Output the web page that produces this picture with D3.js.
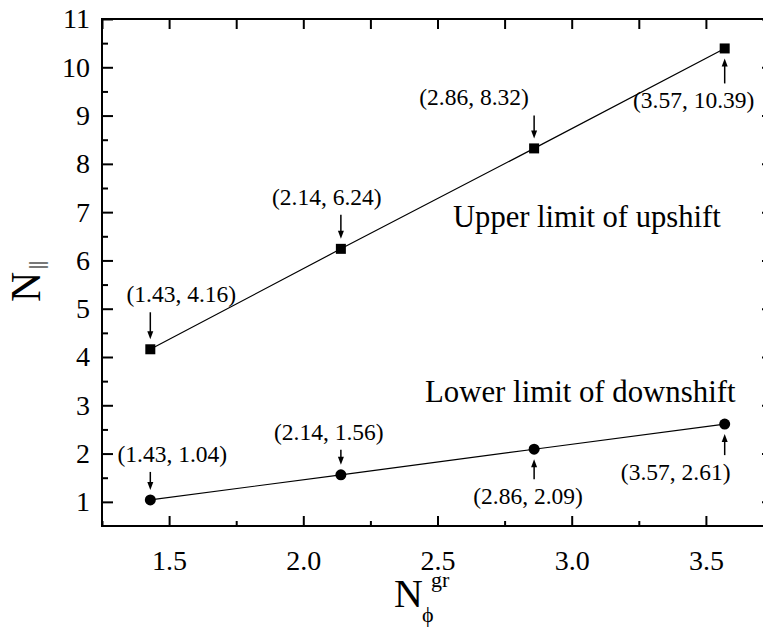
<!DOCTYPE html>
<html>
<head>
<meta charset="utf-8">
<script src="https://cdn.jsdelivr.net/npm/d3@7"></script>
<style>
  html, body { margin: 0; padding: 0; background: #fff; }
  svg { display: block; }
  text { font-family: "Liberation Serif", "Times New Roman", serif; fill: #000; }
</style>
</head>
<body>
<svg id="chart" width="763" height="629"></svg>
<script>
// N_phi^gr values and the two N_parallel limits
const nPhi = [1.43, 2.14, 2.86, 3.57];
const upperLimit = [4.16, 6.24, 8.32, 10.39];
const lowerLimit = [1.04, 1.56, 2.09, 2.61];
const xTickValues = [1.5, 2.0, 2.5, 3.0, 3.5];
const yTickValues = [1, 2, 3, 4, 5, 6, 7, 8, 9, 10, 11];
const seriesNames = ["Upper limit of upshift", "Lower limit of downshift"];

// where each "(x, y)" callout sits relative to its marker (pixels)
const upperCallouts = [
  { dx: 31, dy: -47, side: "above" },
  { dx: -14, dy: -44, side: "above" },
  { dx: -60, dy: -43, side: "above" },
  { dx: -31, dy: 60, side: "below" }
];
const lowerCallouts = [
  { dx: 22, dy: -38, side: "above" },
  { dx: -12, dy: -35, side: "above" },
  { dx: -6, dy: 55, side: "below" },
  { dx: -49, dy: 56, side: "below" }
];

const svg = d3.select("#chart");
const plotL = 102, plotR = 773, plotT = 19, plotB = 526;

const x = d3.scaleLinear().domain([1.25, 3.75]).range([plotL, plotR]);
const y = d3.scaleLinear().domain([0.5, 11]).range([plotB, plotT]);

const xMinor = d3.range(1.25, 3.76, 0.25).filter(v => !xTickValues.some(t => Math.abs(t - v) < 1e-6));
const yMinor = d3.range(1.5, 11, 1);

function styleAxis(g) {
  g.select(".domain").remove();
  g.selectAll(".tick line").attr("stroke", "#000").attr("stroke-width", 2);
}

// bottom axis: labelled majors, short minors, ticks pointing inward
svg.append("g").attr("transform", `translate(0,${plotB})`)
  .call(d3.axisBottom(x).tickValues(xTickValues).tickSize(-10).tickPadding(24)
    .tickFormat(d3.format(".1f")))
  .call(styleAxis)
  .call(g => g.selectAll("text").attr("font-size", 28).attr("font-family", "Liberation Serif"));
svg.append("g").attr("transform", `translate(0,${plotB})`)
  .call(d3.axisBottom(x).tickValues(xMinor).tickSize(-5).tickFormat(""))
  .call(styleAxis);

// top axis
svg.append("g").attr("transform", `translate(0,${plotT})`)
  .call(d3.axisTop(x).tickValues(xTickValues.concat(xMinor)).tickSize(-10).tickFormat(""))
  .call(styleAxis);

// left axis
svg.append("g").attr("transform", `translate(${plotL},0)`)
  .call(d3.axisLeft(y).tickValues(yTickValues).tickSize(-11).tickPadding(12))
  .call(styleAxis)
  .call(g => g.selectAll("text").attr("font-size", 28).attr("font-family", "Liberation Serif"));
svg.append("g").attr("transform", `translate(${plotL},0)`)
  .call(d3.axisLeft(y).tickValues(yMinor).tickSize(-6).tickFormat(""))
  .call(styleAxis);

// right axis
svg.append("g").attr("transform", `translate(${plotR},0)`)
  .call(d3.axisRight(y).tickValues(yTickValues).tickSize(-11).tickFormat(""))
  .call(styleAxis);
svg.append("g").attr("transform", `translate(${plotR},0)`)
  .call(d3.axisRight(y).tickValues(yMinor).tickSize(-6).tickFormat(""))
  .call(styleAxis);

// frame
svg.append("rect")
  .attr("x", plotL).attr("y", plotT)
  .attr("width", plotR - plotL).attr("height", plotB - plotT)
  .attr("fill", "none").attr("stroke", "#000").attr("stroke-width", 2);

// axis titles
const xTitle = svg.append("g").attr("transform", "translate(394,607)");
xTitle.append("text").attr("font-size", 40).text("N");
xTitle.append("text").attr("x", 28).attr("y", 15).attr("font-size", 22).text("\u03d5");
xTitle.append("text").attr("x", 37).attr("y", -20).attr("font-size", 22).text("gr");

const yTitle = svg.append("g").attr("transform", "translate(40,302) rotate(-90)");
yTitle.append("text").attr("font-size", 42).text("N");
yTitle.append("text").attr("x", 33).attr("y", 3).attr("font-size", 20).text("||");

// connecting lines
const line = d3.line().x((d, i) => x(nPhi[i])).y(d => y(d));
[upperLimit, lowerLimit].forEach(vals => {
  svg.append("path").datum(vals)
    .attr("d", line)
    .attr("fill", "none").attr("stroke", "#000").attr("stroke-width", 1.2);
});

// markers
svg.selectAll("rect.sq").data(upperLimit).enter().append("rect")
  .attr("class", "sq")
  .attr("x", (d, i) => x(nPhi[i]) - 5).attr("y", d => y(d) - 5)
  .attr("width", 10).attr("height", 10).attr("fill", "#000");
svg.selectAll("circle.dot").data(lowerLimit).enter().append("circle")
  .attr("class", "dot")
  .attr("cx", (d, i) => x(nPhi[i])).attr("cy", d => y(d))
  .attr("r", 5.5).attr("fill", "#000");

// callouts: value text plus a small vertical arrow pointing at the marker
function arrow(px, y0, y1) {
  // y0 = tail, y1 = tip
  const dir = y1 > y0 ? 1 : -1;
  svg.append("line").attr("x1", px).attr("x2", px)
    .attr("y1", y0).attr("y2", y1 - dir * 6)
    .attr("stroke", "#000").attr("stroke-width", 1.5);
  svg.append("path")
    .attr("d", `M${px},${y1} L${px - 3},${y1 - dir * 8} L${px + 3},${y1 - dir * 8} Z`)
    .attr("fill", "#000");
}

function callouts(vals, layout, markerR) {
  vals.forEach((v, i) => {
    const px = x(nPhi[i]), py = y(v);
    const c = layout[i];
    svg.append("text")
      .attr("x", px + c.dx).attr("y", py + c.dy)
      .attr("text-anchor", "middle").attr("font-size", 23.5)
      .text(`(${d3.format(".2f")(nPhi[i])}, ${d3.format(".2f")(v)})`);
    if (c.side === "above") {
      arrow(px, py + c.dy + 10, py - markerR - 4);
    } else {
      arrow(px, py + c.dy - 25, py + markerR + 4);
    }
  });
}
callouts(upperLimit, upperCallouts, 6);
callouts(lowerLimit, lowerCallouts, 6);

// series captions
svg.append("text").attr("x", 453).attr("y", 227).attr("font-size", 30.6).text(seriesNames[0]);
svg.append("text").attr("x", 425).attr("y", 402).attr("font-size", 30.8).text(seriesNames[1]);
</script>
</body>
</html>
